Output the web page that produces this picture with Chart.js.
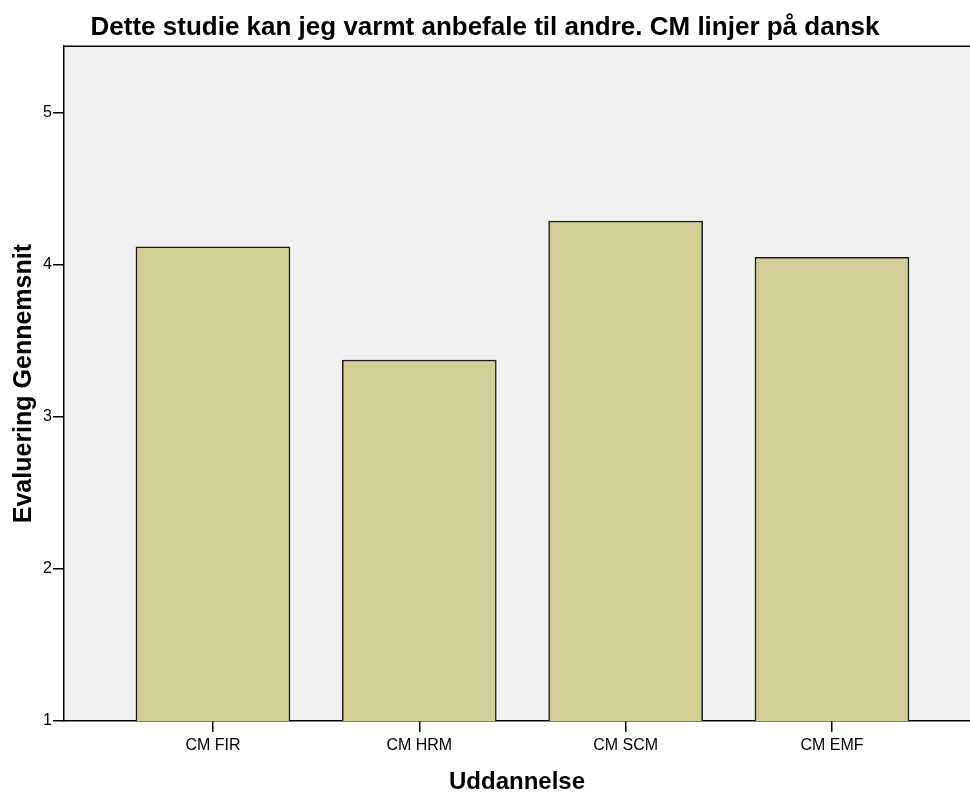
<!DOCTYPE html>
<html>
<head>
<meta charset="utf-8">
<script src="https://cdn.jsdelivr.net/npm/chart.js@4.4.1/dist/chart.umd.min.js"></script>
<style>
  body { margin: 0; background: #fff; }
  #wrap { width: 970px; height: 794px; }
</style>
</head>
<body>
<div id="wrap"><canvas id="myChart"></canvas></div>
<script>
// values
const categories = ['CM FIR', 'CM HRM', 'CM SCM', 'CM EMF'];
const means = [4.12, 3.375, 4.29, 4.05];
const yTicks = [1, 2, 3, 4, 5];

const tickFont = { family: '"Liberation Sans", Arial, sans-serif', size: 16 };
const boldFont = (size) => ({ family: '"Liberation Sans", Arial, sans-serif', size: size, weight: 'bold', lineHeight: 1.2 });

// grey plot background + top frame line
const plotBg = {
    id: 'plotBg',
    beforeDraw(chart) {
        const { ctx, chartArea: a } = chart;
        ctx.save();
        ctx.fillStyle = '#f0f0f0';
        ctx.fillRect(a.left, a.top, a.right - a.left, a.bottom - a.top);
        ctx.strokeStyle = '#000';
        ctx.lineWidth = 1.5;
        ctx.beginPath();
        ctx.moveTo(a.left, a.top);
        ctx.lineTo(a.right, a.top);
        ctx.stroke();
        ctx.restore();
    }
};

document.addEventListener('DOMContentLoaded', () => {
    const ctx = document.getElementById('myChart');

    new Chart(ctx, {
        type: 'bar',
        data: {
            datasets: [{
                data: means.map((v, i) => ({ x: i, y: v })),
                backgroundColor: '#d3ce98',
                borderColor: '#1a1a1a',
                borderWidth: 1.5,
                borderSkipped: false,
                barThickness: 154
            }]
        },
        plugins: [plotBg],
        options: {
            responsive: true,
            maintainAspectRatio: false,
            animation: false,
            layout: { padding: 0 },
            plugins: {
                legend: { display: false },
                tooltip: { enabled: false },
                title: {
                    display: true,
                    text: 'Dette studie kan jeg varmt anbefale til andre. CM linjer på dansk',
                    color: '#000',
                    font: boldFont(26),
                    padding: { top: 12, bottom: 3 }
                }
            },
            scales: {
                x: {
                    type: 'linear',
                    offset: false,
                    min: -0.722,
                    max: 3.669,
                    afterBuildTicks: (s) => { s.ticks = categories.map((c, i) => ({ value: i })); },
                    afterFit: (s) => { s.height = 73; },
                    ticks: {
                        callback: (v) => categories[v],
                        color: '#000',
                        font: tickFont,
                        padding: 4,
                        maxRotation: 0,
                        autoSkip: false
                    },
                    grid: {
                        offset: false,
                        drawOnChartArea: false,
                        drawTicks: true,
                        tickLength: 11,
                        tickColor: '#000',
                        lineWidth: 1.5
                    },
                    border: { display: true, color: '#000', width: 1.5 },
                    title: {
                        display: true,
                        text: 'Uddannelse',
                        color: '#000',
                        font: { family: '"Liberation Sans", Arial, sans-serif', size: 24, weight: 'bold', lineHeight: 1 },
                        padding: { top: 0, bottom: 0 }
                    }
                },
                y: {
                    min: 1,
                    max: 5.44,
                    afterBuildTicks: (s) => { s.ticks = yTicks.map(v => ({ value: v })); },
                    afterFit: (s) => { s.width = 64; },
                    ticks: {
                        color: '#000',
                        font: tickFont,
                        padding: 1
                    },
                    grid: {
                        drawOnChartArea: false,
                        drawTicks: true,
                        tickLength: 11,
                        tickColor: '#000',
                        lineWidth: 1.5
                    },
                    border: { display: true, color: '#000', width: 1.5 },
                    title: {
                        display: true,
                        text: 'Evaluering Gennemsnit',
                        color: '#000',
                        font: boldFont(25),
                        padding: { top: 9, bottom: 0 }
                    }
                }
            }
        }
    });
});
</script>
</body>
</html>
